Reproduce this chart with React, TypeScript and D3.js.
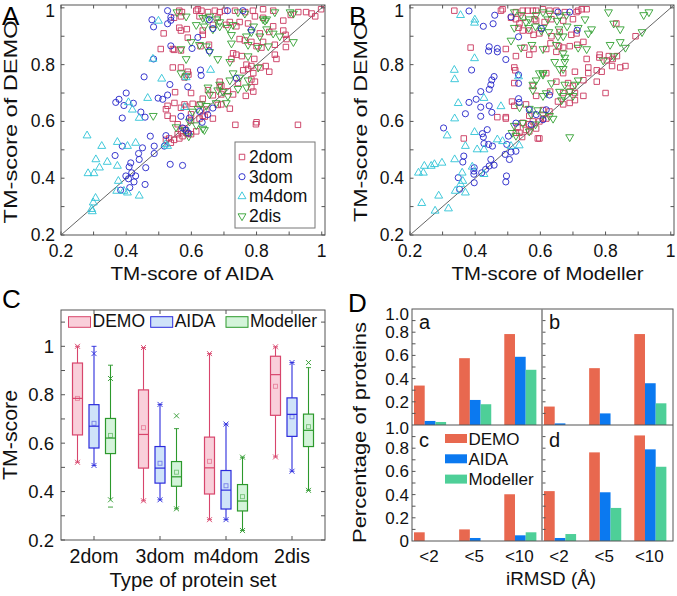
import React from 'react';
import * as d3 from 'd3';

const FONT = '"Liberation Sans", Arial, Helvetica, sans-serif';

// ---------- panel A: x = TM-score of AIDA, y = TM-score of DEMO
const aida2dom: [number, number][] = [
  [0.563,0.99],[0.571,0.985],[0.615,0.99],[0.62,0.995],[0.631,0.99],[0.651,0.985],[0.672,0.99],[0.687,0.985],[0.703,0.99],[0.734,0.99],[0.765,0.985],[0.789,0.99],[0.82,0.995],[0.851,0.99],[0.928,0.985],[0.952,0.985],[0.969,0.98],[0.998,0.995],
  [0.547,0.965],[0.568,0.97],[0.625,0.97],[0.681,0.965],[0.718,0.95],[0.748,0.95],[0.774,0.945],[0.795,0.97],[0.82,0.965],[0.882,0.955],[0.98,0.97],[0.905,0.975],
  [0.515,0.91],[0.563,0.93],[0.568,0.92],[0.586,0.925],[0.635,0.92],[0.666,0.94],[0.707,0.94],[0.738,0.935],[0.81,0.91],[0.839,0.915],[0.851,0.935],[0.882,0.92],[0.889,0.905],
  [0.589,0.895],[0.635,0.905],[0.748,0.89],[0.784,0.88],[0.82,0.88],[0.892,0.89],[0.628,0.865],[0.654,0.87],[0.764,0.885],[0.8,0.865],[0.815,0.86],[0.856,0.87],[0.89,0.862],
  [0.506,0.855],[0.543,0.855],[0.547,0.852],[0.568,0.85],[0.728,0.84],[0.738,0.835],[0.755,0.83],[0.793,0.82],[0.856,0.835],[0.861,0.82],[0.723,0.82],
  [0.543,0.79],[0.568,0.79],[0.589,0.775],[0.759,0.78],[0.769,0.8],[0.784,0.795],[0.79,0.77],[0.812,0.79],[0.828,0.795],[0.839,0.775],[0.774,0.785],
  [0.579,0.755],[0.591,0.765],[0.687,0.74],[0.743,0.735],[0.784,0.748],[0.795,0.74],[0.692,0.725],
  [0.55,0.703],[0.599,0.7],[0.651,0.71],[0.687,0.72],[0.692,0.695],[0.712,0.706],[0.728,0.695],[0.767,0.69],[0.784,0.72],[0.79,0.705],[0.635,0.68],[0.666,0.692],
  [0.548,0.665],[0.579,0.66],[0.604,0.662],[0.625,0.66],[0.646,0.642],[0.681,0.658],[0.692,0.66],[0.718,0.645],[0.522,0.643],[0.527,0.655],[0.599,0.625],[0.568,0.648],[0.584,0.652],
  [0.527,0.62],[0.543,0.61],[0.558,0.59],[0.625,0.61],[0.635,0.62],[0.641,0.617],[0.666,0.61],[0.735,0.588],[0.798,0.59],[0.8,0.597],[0.927,0.588],[0.599,0.603],
  [0.558,0.555],[0.568,0.565],[0.579,0.575],[0.584,0.56],[0.589,0.556],[0.599,0.555],[0.615,0.565],
  [0.537,0.525],[0.547,0.535],[0.563,0.54],[0.573,0.548],[0.522,0.535],[0.532,0.54],
];
const aida3dom: [number, number][] = [
  [0.527,0.99],[0.479,0.958],[0.484,0.933],[0.527,0.944],[0.537,0.956],[0.537,0.967],[0.62,0.896],[0.655,0.958],[0.666,0.927],[0.711,0.99],[0.758,0.99],[0.784,0.922],
  [0.602,0.857],[0.655,0.848],[0.537,0.866],[0.484,0.82],[0.455,0.757],[0.512,0.678],[0.534,0.73],[0.589,0.722],[0.628,0.781],[0.63,0.762],[0.666,0.647],
  [0.4,0.7],[0.378,0.678],[0.368,0.667],[0.393,0.656],[0.422,0.664],[0.388,0.612],[0.445,0.633],[0.458,0.615],[0.527,0.693],[0.498,0.682],
  [0.568,0.618],[0.573,0.577],[0.584,0.569],[0.591,0.559],[0.594,0.612],[0.633,0.597],[0.65,0.624],[0.625,0.635],
  [0.474,0.548],[0.486,0.513],[0.486,0.487],[0.522,0.55],[0.517,0.513],[0.45,0.507],[0.438,0.487],[0.44,0.466],[0.414,0.454],[0.366,0.48],[0.388,0.513],
  [0.409,0.44],[0.417,0.419],[0.399,0.408],[0.407,0.398],[0.411,0.367],[0.429,0.408],[0.424,0.387],[0.383,0.358],[0.46,0.437],[0.458,0.378],[0.535,0.449],[0.573,0.445],[0.738,0.752],
];
const aidaM4dom: [number, number][] = [
  [0.499,0.954],[0.584,0.755],[0.659,0.781],[0.509,0.75],[0.466,0.682],[0.419,0.641],[0.44,0.612],[0.407,0.667],[0.482,0.82],[0.579,0.65],
  [0.28,0.55],[0.325,0.513],[0.307,0.466],[0.373,0.527],[0.342,0.457],[0.318,0.437],[0.283,0.417],[0.301,0.417],[0.373,0.443],[0.404,0.513],[0.429,0.524],
  [0.376,0.39],[0.371,0.355],[0.393,0.355],[0.404,0.349],[0.44,0.338],[0.306,0.33],[0.299,0.314],[0.294,0.291],[0.296,0.283],[0.52,0.519],[0.527,0.513],
];
const aida2dis: [number, number][] = [
  [0.556,0.985],[0.584,0.97],[0.635,0.965],[0.646,0.96],[0.656,0.97],[0.676,0.96],[0.687,0.95],[0.743,0.985],[0.764,0.98],[0.82,0.96],[0.831,0.96],[0.856,0.985],[0.903,0.985],[0.913,0.98],[0.826,0.955],
  [0.615,0.94],[0.64,0.935],[0.666,0.925],[0.687,0.935],[0.728,0.94],[0.769,0.9],[0.784,0.915],[0.81,0.9],[0.831,0.925],[0.851,0.91],[0.871,0.9],[0.791,0.935],[0.712,0.93],[0.723,0.905],
  [0.599,0.88],[0.625,0.87],[0.646,0.865],[0.723,0.875],[0.774,0.87],[0.805,0.86],[0.836,0.865],[0.913,0.88],[0.568,0.855],[0.656,0.845],
  [0.584,0.82],[0.681,0.82],[0.774,0.83],[0.805,0.79],[0.718,0.81],
  [0.568,0.77],[0.584,0.76],[0.728,0.77],[0.748,0.755],[0.774,0.745],[0.718,0.745],
  [0.651,0.72],[0.681,0.71],[0.687,0.73],[0.697,0.705],[0.712,0.69],[0.656,0.695],[0.743,0.715],[0.769,0.72],
  [0.63,0.66],[0.646,0.655],[0.676,0.665],[0.707,0.665],[0.62,0.645],[0.604,0.635],
  [0.483,0.62],[0.594,0.6],[0.615,0.587],[0.635,0.575],[0.64,0.57],[0.579,0.57],[0.553,0.58],[0.592,0.548],
];

// ---------- panel B: x = TM-score of Modeller, y = TM-score of DEMO
const mod2dom: [number, number][] = [
  [0.336,0.99],[0.479,0.99],[0.484,0.995],[0.525,0.985],[0.546,0.99],[0.561,0.99],[0.577,0.99],[0.587,0.99],[0.608,0.995],[0.628,0.99],[0.649,0.99],[0.675,0.985],[0.711,0.985],[0.716,0.99],[0.727,0.995],[0.742,0.995],
  [0.51,0.965],[0.525,0.96],[0.546,0.965],[0.582,0.96],[0.587,0.955],[0.634,0.96],[0.67,0.955],[0.7,0.96],[0.833,0.945],[0.536,0.945],[0.613,0.95],
  [0.533,0.93],[0.546,0.92],[0.566,0.92],[0.579,0.905],[0.597,0.91],[0.634,0.9],[0.695,0.905],[0.711,0.91],[0.892,0.9],[0.659,0.915],
  [0.631,0.875],[0.657,0.865],[0.69,0.865],[0.713,0.87],[0.732,0.88],[0.386,0.86],[0.494,0.855],[0.551,0.86],[0.579,0.855],[0.618,0.855],[0.67,0.86],
  [0.525,0.83],[0.566,0.835],[0.649,0.845],[0.742,0.82],[0.781,0.825],[0.804,0.815],[0.822,0.82],[0.81,0.83],[0.782,0.835],[0.835,0.83],
  [0.52,0.79],[0.523,0.78],[0.618,0.77],[0.67,0.77],[0.706,0.775],[0.747,0.79],[0.773,0.78],[0.788,0.775],[0.82,0.795],[0.861,0.795],[0.845,0.79],[0.747,0.77],
  [0.52,0.735],[0.577,0.725],[0.649,0.74],[0.685,0.735],[0.7,0.725],[0.732,0.745],[0.773,0.74],[0.587,0.69],[0.63,0.705],[0.67,0.7],[0.69,0.705],[0.732,0.69],[0.8,0.7],[0.706,0.7],
  [0.513,0.67],[0.52,0.655],[0.556,0.66],[0.608,0.64],[0.628,0.635],[0.654,0.67],[0.67,0.66],[0.69,0.665],[0.706,0.675],[0.494,0.615],[0.566,0.62],
  [0.546,0.595],[0.566,0.59],[0.577,0.6],[0.597,0.6],[0.608,0.61],[0.618,0.61],[0.468,0.615],[0.494,0.61],[0.53,0.58],
  [0.365,0.54],[0.525,0.56],[0.536,0.56],[0.556,0.57],[0.566,0.565],[0.587,0.575],[0.592,0.54],[0.597,0.54],[0.544,0.545],
];
const mod3dom: [number, number][] = [
  [0.381,0.989],[0.425,0.935],[0.455,0.944],[0.389,0.781],[0.443,0.863],[0.441,0.848],[0.468,0.857],[0.468,0.845],[0.494,0.818],[0.46,0.974],[0.51,0.968],
  [0.533,0.898],[0.603,0.927],[0.654,0.985],[0.69,0.985],[0.713,0.921],[0.533,0.764],[0.533,0.734],[0.628,0.693],
  [0.458,0.758],[0.451,0.746],[0.448,0.729],[0.443,0.713],[0.417,0.705],[0.403,0.678],[0.381,0.667],[0.37,0.627],[0.417,0.65],[0.417,0.618],[0.443,0.655],[0.451,0.632],
  [0.303,0.577],[0.437,0.571],[0.422,0.557],[0.425,0.545],[0.427,0.522],[0.441,0.519],[0.453,0.513],[0.502,0.548],[0.533,0.68],[0.535,0.667],[0.525,0.594],
  [0.497,0.519],[0.492,0.484],[0.51,0.492],[0.525,0.495],[0.505,0.466],[0.448,0.466],[0.458,0.446],[0.443,0.443],[0.432,0.431],[0.42,0.419],
  [0.397,0.437],[0.396,0.414],[0.397,0.384],[0.365,0.478],[0.362,0.457],[0.348,0.402],[0.352,0.361],[0.396,0.425],[0.496,0.408],[0.494,0.387],
  [0.572,0.589],[0.587,0.624],[0.608,0.606],[0.618,0.641],[0.566,0.641],
];
const modM4dom: [number, number][] = [
  [0.355,0.974],[0.399,0.958],[0.398,0.947],[0.398,0.822],[0.336,0.781],[0.337,0.748],[0.348,0.664],[0.427,0.682],[0.479,0.653],[0.533,0.758],
  [0.337,0.61],[0.314,0.55],[0.398,0.562],[0.37,0.513],[0.406,0.501],[0.427,0.501],[0.468,0.536],[0.484,0.53],[0.51,0.513],[0.535,0.515],
  [0.244,0.443],[0.265,0.443],[0.241,0.419],[0.226,0.419],[0.298,0.454],[0.275,0.449],[0.337,0.466],[0.36,0.419],[0.391,0.44],[0.427,0.414],
  [0.355,0.379],[0.339,0.355],[0.37,0.349],[0.288,0.338],[0.236,0.312],[0.277,0.285],[0.318,0.293],[0.362,0.39],
];
const mod2dis: [number, number][] = [
  [0.52,0.985],[0.541,0.975],[0.587,0.975],[0.608,0.985],[0.628,0.98],[0.659,0.97],[0.68,0.975],[0.737,0.96],[0.809,0.985],[0.917,0.975],[0.933,0.985],[0.566,0.96],[0.623,0.96],[0.651,0.955],[0.556,0.95],
  [0.52,0.93],[0.564,0.93],[0.608,0.93],[0.626,0.915],[0.657,0.925],[0.682,0.935],[0.716,0.93],[0.747,0.91],[0.825,0.945],[0.845,0.925],[0.912,0.915],[0.585,0.935],[0.603,0.92],[0.654,0.9],[0.67,0.9],[0.757,0.925],
  [0.51,0.885],[0.574,0.87],[0.608,0.855],[0.649,0.87],[0.716,0.86],[0.742,0.855],[0.814,0.87],[0.845,0.88],[0.861,0.86],[0.541,0.86],[0.67,0.84],
  [0.644,0.81],[0.675,0.825],[0.675,0.81],[0.793,0.815],[0.825,0.83],[0.608,0.77],[0.659,0.785],[0.67,0.785],
  [0.597,0.77],[0.608,0.765],[0.587,0.745],[0.634,0.735],[0.675,0.73],[0.716,0.745],[0.706,0.73],[0.577,0.73],
  [0.577,0.71],[0.608,0.69],[0.618,0.7],[0.659,0.705],[0.67,0.69],[0.7,0.69],[0.69,0.705],[0.665,0.675],[0.536,0.65],[0.592,0.64],
  [0.566,0.645],[0.572,0.625],[0.608,0.625],[0.628,0.62],[0.639,0.61],[0.546,0.595],[0.52,0.585],[0.585,0.59],
  [0.513,0.56],[0.525,0.55],[0.566,0.565],[0.69,0.545],
];

const setNames = ['2dom', '3dom', 'm4dom', '2dis'];
const setColors = ['#c9375d', '#2424c8', '#2ec3d6', '#32a032'];
const setSymbols = [d3.symbolSquare, d3.symbolCircle, d3.symbolTriangle, d3.symbolTriangle];
const setSizes = [30, 30, 27, 27];
const setFlip = [false, false, false, true];

// ---------- panel C: box statistics per set
// [whiskerLo, q1, median, q3, whiskerHi, mean, crossLo, crossHi, dashLo, dashHi]
const methods = ['DEMO', 'AIDA', 'Modeller'];
const demoBox = [
  [0.521, 0.634, 0.785, 0.931, 1.0, 0.785, 0.521, 1.0, 0.521, 1.0],
  [0.362, 0.497, 0.636, 0.82, 0.995, 0.664, 0.362, 0.995, 0.362, 0.995],
  [0.284, 0.39, 0.498, 0.625, 0.97, 0.525, 0.284, 0.97, 0.284, 0.97],
  [0.543, 0.715, 0.883, 0.959, 0.998, 0.835, 0.543, 0.998, 0.543, 0.998],
];
const aidaBox = [
  [0.508, 0.58, 0.67, 0.759, 1.0, 0.682, 0.508, 0.97, 0.508, 1.0],
  [0.366, 0.435, 0.497, 0.586, 0.76, 0.517, 0.366, 0.76, 0.366, 0.76],
  [0.284, 0.328, 0.406, 0.487, 0.679, 0.424, 0.284, 0.679, 0.284, 0.679],
  [0.484, 0.628, 0.719, 0.787, 0.933, 0.709, 0.484, 0.933, 0.484, 0.933],
];
const modellerBox = [
  [0.366, 0.557, 0.621, 0.702, 0.922, 0.632, 0.366, 0.867, 0.336, 0.922],
  [0.329, 0.422, 0.461, 0.524, 0.66, 0.48, 0.329, 0.713, 0.329, 0.66],
  [0.239, 0.32, 0.361, 0.429, 0.542, 0.379, 0.239, 0.542, 0.239, 0.542],
  [0.405, 0.586, 0.653, 0.72, 0.912, 0.668, 0.405, 0.933, 0.405, 0.912],
];
const boxStroke = ['#d8456c', '#2b2bdc', '#2c992c'];
const boxFill = ['#f9cfda', '#cfe3f9', '#d4f4da'];

// ---------- panel D: fraction of proteins with iRMSD below cutoff, sub-panels a-d
const cutoffs = ['<2', '<5', '<10'];
const subLabels = ['a', 'b', 'c', 'd'];
const demoPct = [[0.34, 0.576, 0.784], [0.159, 0.49, 0.784], [0.075, 0.1, 0.403], [0.43, 0.764, 0.91]];
const aidaPct = [[0.035, 0.216, 0.588], [0.014, 0.1, 0.36], [0, 0.026, 0.049], [0.026, 0.42, 0.79]];
const modellerPct = [[0.026, 0.179, 0.476], [0, 0, 0.187], [0, 0, 0.075], [0.06, 0.285, 0.64]];
const barColors = ['#e8684f', '#0b79f0', '#4ecf98'];

const tenths = d3.range(2, 11).map((d) => d / 10);
const majors = [0.2, 0.4, 0.6, 0.8, 1];
const fmtTick = (v: number) => (v === 1 ? '1' : d3.format('.1f')(v));

// titles in the figure are a little wider than the font's natural width
function Title({ x, y, len, size, rotate, children }: any) {
  return (
    <text transform={`translate(${x},${y})${rotate ? ' rotate(-90)' : ''}`} textAnchor="middle"
      fontSize={size} fill="#111" textLength={len} lengthAdjust="spacingAndGlyphs">{children}</text>
  );
}

function Scatter({ x0, x1, sets, xTitle, xTitleC, xTitleLen, yTitleX, yTitleLen, label, legend }: any) {
  const x = d3.scaleLinear().domain([0.2, 1.01]).range([x0, x1]);
  const y = d3.scaleLinear().domain([0.2, 1.01]).range([235, 5]);
  const [top, bottom] = y.range().slice().reverse();
  const sym = (i: number) => d3.symbol().type(setSymbols[i]).size(setSizes[i])()!;
  return (
    <g fontFamily={FONT}>
      <line x1={x(0.2)} y1={y(0.2)} x2={x(1.01)} y2={y(1.01)} stroke="#222" strokeWidth={0.7} />
      {[0, 3, 1, 2].map((si) => (
        <g key={si}>
          {sets[si].map((d: [number, number], j: number) => (
            <path key={j} d={sym(si)}
              transform={`translate(${x(d[0])},${y(d[1])})${setFlip[si] ? ' rotate(180)' : ''}`}
              fill="none" stroke={setColors[si]} strokeWidth={0.9} />
          ))}
        </g>
      ))}
      <rect x={x0} y={top} width={x1 - x0} height={bottom - top} fill="none" stroke="#555" strokeWidth={1} />
      {tenths.map((t) => (
        <g key={t} stroke="#555" strokeWidth={1}>
          <line x1={x(t)} x2={x(t)} y1={bottom} y2={bottom - 3.5} />
          <line x1={x(t)} x2={x(t)} y1={top} y2={top + 3.5} />
          <line x1={x0} x2={x0 + 3.5} y1={y(t)} y2={y(t)} />
          <line x1={x1} x2={x1 - 3.5} y1={y(t)} y2={y(t)} />
        </g>
      ))}
      {majors.map((t) => (
        <g key={t} fontSize={17.5} fill="#111">
          <text x={x(t)} y={256.5} textAnchor="middle">{fmtTick(t)}</text>
          <text x={x0 - 6} y={Math.max(y(t) + 6, 16.5)} textAnchor="end">{fmtTick(t)}</text>
        </g>
      ))}
      <Title x={xTitleC} y={280} len={xTitleLen} size={18.5}>{xTitle}</Title>
      <Title x={yTitleX} y={122} len={yTitleLen} size={18.5} rotate>TM-score of DEMO</Title>
      <text x={label[0]} y={label[1]} fontSize={26} fill="#000">{label[2]}</text>
      {legend && (
        <g>
          <rect x={235} y={142} width={80} height={86} fill="#fff" stroke="#777" strokeWidth={1} />
          {setNames.map((n, i) => (
            <g key={n} transform={`translate(0,${157 + i * 19.7})`}>
              <path d={sym(i)} transform={`translate(242,0)${setFlip[i] ? ' rotate(180)' : ''}`} fill="none" stroke={setColors[i]} strokeWidth={0.9} />
              <text x={249} y={6} fontSize={17.5} fill="#111">{n}</text>
            </g>
          ))}
        </g>
      )}
    </g>
  );
}

function BoxPanel() {
  const x = d3.scaleLinear().domain([0.5, 4.5]).range([61, 325]);
  const y = d3.scaleLinear().domain([0.2, 1.15]).range([540, 310]);
  const boxes = [demoBox, aidaBox, modellerBox];
  const offs = [-16.5, 0, 16.5];
  const hw = 5;
  const yt = d3.range(2, 12).map((d) => d / 10);
  const cross = (cx: number, cy: number, c: string, k: string) => (
    <path key={k} d={`M${cx - 2.5},${cy - 2.5}L${cx + 2.5},${cy + 2.5}M${cx - 2.5},${cy + 2.5}L${cx + 2.5},${cy - 2.5}`} stroke={c} strokeWidth={0.9} />
  );
  return (
    <g fontFamily={FONT}>
      {boxes.map((rows, m) =>
        rows.map((s, g) => {
          const cx = x(g + 1) + offs[m];
          const c = boxStroke[m];
          return (
            <g key={`${m}-${g}`}>
              <line x1={cx} x2={cx} y1={y(s[1])} y2={y(s[0])} stroke={c} strokeWidth={1.1} />
              <line x1={cx} x2={cx} y1={y(s[3])} y2={y(s[4])} stroke={c} strokeWidth={1.1} />
              <rect x={cx - hw} y={y(s[3])} width={hw * 2} height={y(s[1]) - y(s[3])} fill={boxFill[m]} stroke={c} strokeWidth={1.2} />
              <line x1={cx - hw} x2={cx + hw} y1={y(s[2])} y2={y(s[2])} stroke={c} strokeWidth={1.2} />
              <rect x={cx - 2} y={y(s[5]) - 2} width={4} height={4} fill="none" stroke={c} strokeOpacity={0.55} strokeWidth={0.9} />
              {cross(cx, y(s[6]), c, 'a')}
              {cross(cx, y(s[7]), c, 'b')}
              <line x1={cx - 2.5} x2={cx + 2.5} y1={y(s[8])} y2={y(s[8])} stroke={c} strokeWidth={0.9} />
              <line x1={cx - 2.5} x2={cx + 2.5} y1={y(s[9])} y2={y(s[9])} stroke={c} strokeWidth={0.9} />
            </g>
          );
        })
      )}
      <rect x={61} y={310} width={264} height={230} fill="none" stroke="#555" strokeWidth={1} />
      {yt.map((t) => (
        <g key={t} stroke="#555">
          <line x1={61} x2={65} y1={y(t)} y2={y(t)} />
          <line x1={325} x2={321} y1={y(t)} y2={y(t)} />
        </g>
      ))}
      {setNames.map((n, i) => (
        <g key={n}>
          <line x1={x(i + 1)} x2={x(i + 1)} y1={540} y2={536} stroke="#555" />
          <line x1={x(i + 1)} x2={x(i + 1)} y1={310} y2={314} stroke="#555" />
          <text x={x(i + 1)} y={563} textAnchor="middle" fontSize={19.5} fill="#111">{n}</text>
        </g>
      ))}
      {majors.map((t) => (
        <text key={t} x={54} y={y(t) + 6.5} textAnchor="end" fontSize={18.5} fill="#111">{fmtTick(t)}</text>
      ))}
      <Title x={193} y={587} len={167} size={19.5}>Type of protein set</Title>
      <Title x={16.5} y={435} len={90} size={19.5} rotate>TM-score</Title>
      {methods.map((n, i) => {
        const lx = [68.5, 150.7, 226][i];
        return (
          <g key={n}>
            <rect x={lx} y={316.7} width={22} height={10.6} fill={boxFill[i]} stroke={boxStroke[i]} strokeWidth={1} />
            <text x={lx + 24} y={327} fontSize={17.5} fill="#111">{n}</text>
          </g>
        );
      })}
      <text x={2} y={308} fontSize={26} fill="#000">C</text>
    </g>
  );
}

function BarPanel() {
  const L = 412, M = 542, R = 673, T = 309, MY = 425, B = 541;
  const yTop = d3.scaleLinear().domain([0, 1]).range([MY, T]);
  const yBot = d3.scaleLinear().domain([0, 1]).range([B, MY]);
  const xg = d3.scaleLinear().domain([-0.4, 2.48]).range([L, M]);
  const bw = 10.7;
  const series = [demoPct, aidaPct, modellerPct];
  const t10 = d3.range(1, 10).map((d) => d / 10);
  return (
    <g fontFamily={FONT}>
      {subLabels.map((sl, p) => {
        const yS = p < 2 ? yTop : yBot;
        const dx = p % 2 === 0 ? 0 : M - L;
        return (
          <g key={sl}>
            {series.map((vals, m) =>
              vals[p].map((v, c) => (
                <rect key={`${m}-${c}`} x={xg(c) + dx + (m - 1.5) * bw} y={yS(v)} width={bw} height={yS(0) - yS(v)} fill={barColors[m]} />
              ))
            )}
            {t10.map((t) => (
              <line key={t} x1={L + dx} x2={L + dx + 3.5} y1={yS(t)} y2={yS(t)} stroke="#555" />
            ))}
            <text x={L + dx + 7} y={p < 2 ? 328.5 : 447} fontSize={20} fill="#111">{sl}</text>
          </g>
        );
      })}
      <rect x={L} y={T} width={R - L} height={B - T} fill="none" stroke="#555" strokeWidth={1} />
      <line x1={L} x2={R} y1={MY} y2={MY} stroke="#555" strokeWidth={1.2} />
      <line x1={M} x2={M} y1={T} y2={B} stroke="#888" strokeWidth={1.6} />
      {[0.2, 0.4, 0.6, 0.8, 1].map((t) => (
        <text key={`t${t}`} x={409} y={yTop(t) + 6 + (t === 1 ? 5 : 0)} textAnchor="end" fontSize={17} fill="#111">{d3.format('.1f')(t)}</text>
      ))}
      {[0, 0.2, 0.4, 0.6, 0.8, 1].map((t) => (
        <text key={`b${t}`} x={409} y={yBot(t) + 6 + (t === 1 ? 3 : 0)} textAnchor="end" fontSize={17} fill="#111">{t === 0 ? '0' : d3.format('.1f')(t)}</text>
      ))}
      {[0, M - L].map((dx) =>
        cutoffs.map((c, i) => (
          <text key={`${dx}${c}`} x={xg(i) + dx - 1} y={561.5} textAnchor="middle" fontSize={17} fill="#111">{c}</text>
        ))
      )}
      <Title x={551} y={585} len={90} size={18.5}>iRMSD (Å)</Title>
      <Title x={366} y={432.5} len={221} size={18.5} rotate>Percentage of proteins</Title>
      {methods.map((n, i) => (
        <g key={n}>
          <rect x={445} y={434 + i * 20.3} width={22} height={9} fill={barColors[i]} />
          <text x={468.5} y={445 + i * 20} fontSize={17} fill="#111">{n}</text>
        </g>
      ))}
      <text x={348} y={312} fontSize={26} fill="#000">D</text>
    </g>
  );
}

export default function App() {
  return (
    <svg width={677} height={596} viewBox="0 0 677 596"
      style={{ position: 'absolute', left: 0, top: 0, background: '#fff' }}>
      <rect width={677} height={596} fill="#fff" />
      <Scatter x0={61} x1={325} sets={[aida2dom, aida3dom, aidaM4dom, aida2dis]}
        xTitle="TM-score of AIDA" xTitleC={192} xTitleLen={163} yTitleX={16.5} yTitleLen={203}
        label={[2, 25, 'A']} legend />
      <Scatter x0={410} x1={674} sets={[mod2dom, mod3dom, modM4dom, mod2dis]}
        xTitle="TM-score of Modeller" xTitleC={547.5} xTitleLen={192} yTitleX={366.5} yTitleLen={200}
        label={[349, 25, 'B']} />
      <BoxPanel />
      <BarPanel />
    </svg>
  );
}
